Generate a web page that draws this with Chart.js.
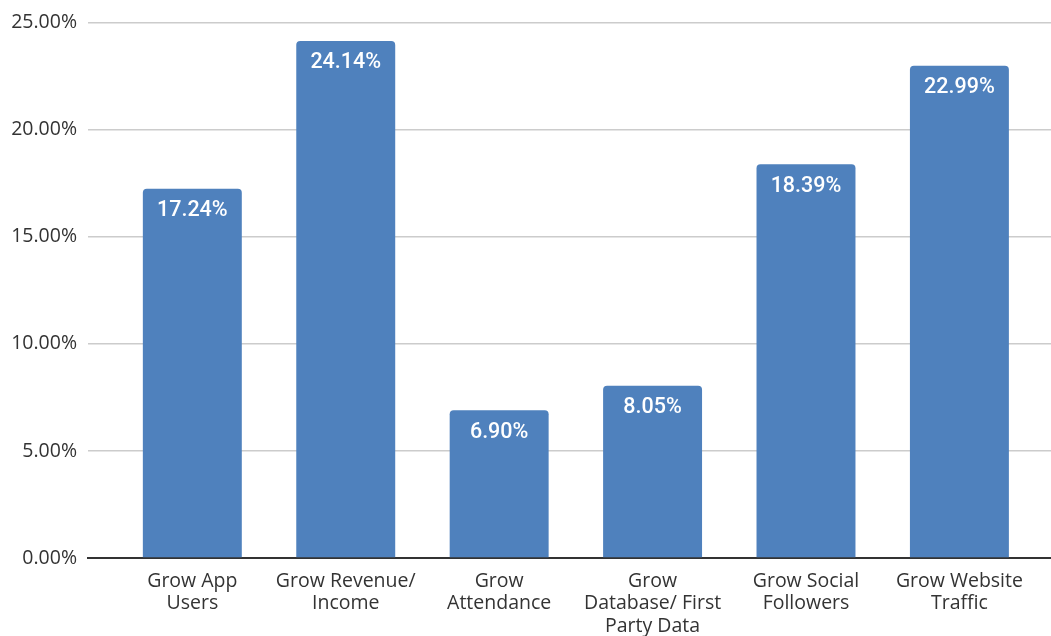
<!DOCTYPE html>
<html>
<head>
<meta charset="utf-8">
<script src="https://cdn.jsdelivr.net/npm/chart.js@4/dist/chart.umd.min.js"></script>
<style>
  html, body { margin: 0; padding: 0; background: #ffffff; }
  #wrap { width: 1051px; height: 636px; position: relative; }
</style>
</head>
<body>
<div id="wrap"><canvas id="c" width="1051" height="636"></canvas></div>
<script>
// Goals and share of respondents (%)
const categories = [
  ['Grow App', 'Users'],
  ['Grow Revenue/', 'Income'],
  ['Grow', 'Attendance'],
  ['Grow', 'Database/ First', 'Party Data'],
  ['Grow Social', 'Followers'],
  ['Grow Website', 'Traffic']
];
const shares = [17.24, 24.14, 6.90, 8.05, 18.39, 22.99];
const yTicks = [0, 5, 10, 15, 20, 25];

const points = shares.map((v, i) => ({ x: i, y: v }));

// Writes each bar's value inside the top of the bar
const valueLabels = {
  id: 'valueLabels',
  afterDatasetsDraw(chart) {
    const ctx = chart.ctx;
    const meta = chart.getDatasetMeta(0);
    ctx.save();
    ctx.font = '500 21.5px Roboto';
    ctx.fillStyle = '#ffffff';
    ctx.textAlign = 'center';
    ctx.textBaseline = 'middle';
    meta.data.forEach((bar, i) => {
      ctx.fillText(shares[i].toFixed(2) + '%', bar.x, bar.y + 22);
    });
    ctx.restore();
  }
};

new Chart(document.getElementById('c'), {
  type: 'bar',
  data: {
    datasets: [{
      data: points,
      backgroundColor: '#4f81bd',
      borderRadius: { topLeft: 4, topRight: 4 },
      borderSkipped: 'bottom',
      categoryPercentage: 1,
      barPercentage: 0.645
    }]
  },
  options: {
    responsive: false,
    animation: false,
    layout: { padding: { top: 13, right: 0, left: 0, bottom: 0 } },
    plugins: { legend: { display: false }, tooltip: { enabled: false } },
    scales: {
      x: {
        type: 'linear',
        offset: false,
        min: -0.68,
        max: 5.597,
        afterBuildTicks(scale) {
          scale.ticks = categories.map((c, i) => ({ value: i }));
        },
        afterFit(scale) { scale.height = 78; },
        grid: { display: false, drawTicks: false, offset: false },
        border: { display: true, color: '#333333', width: 2 },
        ticks: {
          padding: 12,
          autoSkip: false,
          maxRotation: 0,
          color: '#333333',
          font: { family: 'Open Sans', size: 19.5, lineHeight: 1.15 },
          callback: (v) => categories[v] || ''
        }
      },
      y: {
        min: 0,
        max: 25,
        afterBuildTicks(scale) {
          scale.ticks = yTicks.map(v => ({ value: v }));
        },
        afterFit(scale) { scale.width = 88; },
        grid: { color: '#cccccc', lineWidth: 1.5, drawTicks: false },
        border: { display: false },
        ticks: {
          padding: 11,
          color: '#333333',
          font: { family: 'Open Sans', size: 19.5 },
          callback: (v) => v.toFixed(2) + '%'
        }
      }
    }
  },
  plugins: [valueLabels]
});
</script>
</body>
</html>
